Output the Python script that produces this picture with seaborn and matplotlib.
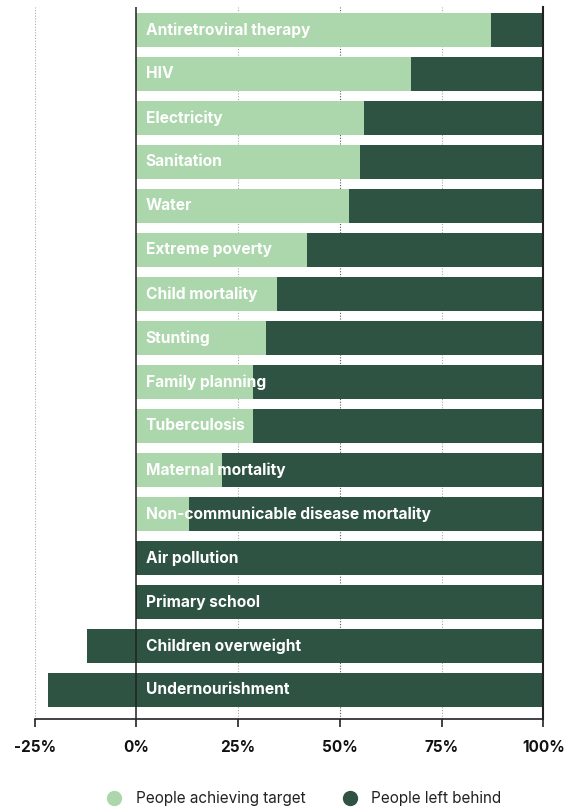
import matplotlib
matplotlib.use("Agg")
import matplotlib.pyplot as plt
import seaborn as sns
from matplotlib.lines import Line2D

categories = ["Antiretroviral therapy", "HIV", "Electricity", "Sanitation", "Water",
              "Extreme poverty", "Child mortality", "Stunting", "Family planning",
              "Tuberculosis", "Maternal mortality", "Non-communicable disease mortality",
              "Air pollution", "Primary school", "Children overweight", "Undernourishment"]
achieved = [87.1, 67.4, 55.9, 54.9, 52.2, 41.9, 34.5, 31.8, 28.6, 28.6, 21.0, 12.9,
            0.0, 0.0, -12.2, -21.8]
full = [100] * len(categories)
ticks = [-25, 0, 25, 50, 75, 100]
tick_labels = ["-25%", "0%", "25%", "50%", "75%", "100%"]

light = "#acd6ac"
dark = "#2f5343"

sns.set_style("white")
plt.rcParams["font.family"] = ["Inter", "DejaVu Sans"]

fig = plt.figure(figsize=(5.77, 8.10), dpi=100)
ax = fig.add_axes([0.06, 0.1123, 0.8816, 0.8791])

# gridlines behind bars
for t in [-25, 25, 50, 75]:
    ax.axvline(t, color="#555555" if t == 50 else "#aaaaaa", lw=0.8,
               ls=(0, (1, 1.5)), zorder=0)

bar_kw = dict(orient="h", saturation=1, width=0.77, ax=ax, linewidth=0, edgecolor="none")
sns.barplot(x=full, y=categories, color=dark, zorder=2, **bar_kw)
sns.barplot(x=[min(v, 0) for v in achieved], y=categories, color=dark, zorder=2, **bar_kw)
sns.barplot(x=[max(v, 0) for v in achieved], y=categories, color=light, zorder=3, **bar_kw)

ax.axvline(0, color="#222222", lw=1.1, zorder=5)

for i, name in enumerate(categories):
    ax.text(2.3, i, name, va="center", ha="left", color="white",
            fontsize=11.2, fontweight="bold", zorder=6)

ax.set_xlim(-25, 100)
ax.set_ylim(15.66, -0.52)
ax.set_xticks(ticks)
ax.set_xticklabels(tick_labels, fontsize=11, fontweight="bold", color="#111111")
ax.set_yticks([])
ax.set_xlabel("")
ax.set_ylabel("")
ax.tick_params(axis="x", direction="out", length=6, width=1.2, color="#222222",
               pad=9, bottom=True)

for s in ["top", "left"]:
    ax.spines[s].set_visible(False)
ax.spines["bottom"].set_color("#222222")
ax.spines["bottom"].set_linewidth(1.2)
ax.spines["right"].set_color("#222222")
ax.spines["right"].set_linewidth(1.5)
ax.spines["right"].set_zorder(6)

handles = [Line2D([], [], marker="o", ls="", markersize=10, color=light,
                  label="People achieving target"),
           Line2D([], [], marker="o", ls="", markersize=10, color=dark,
                  label="People left behind")]
fig.legend(handles=handles, loc="center", bbox_to_anchor=(0.52, 0.014),
           ncol=2, frameon=False, fontsize=11, handletextpad=0.4,
           columnspacing=1.9, labelcolor="#222222")

fig.savefig("out.png", dpi=100)
